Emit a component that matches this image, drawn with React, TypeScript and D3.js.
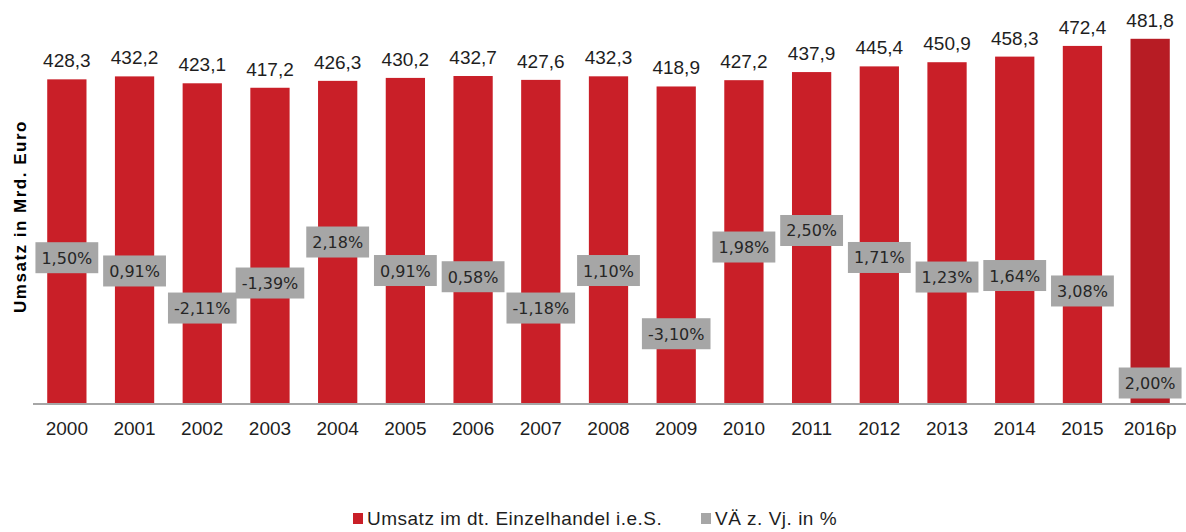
import React from "react";
import * as d3 from "d3";

const years = ["2000","2001","2002","2003","2004","2005","2006","2007","2008","2009","2010","2011","2012","2013","2014","2015","2016p"];
const revenue = [428.3,432.2,423.1,417.2,426.3,430.2,432.7,427.6,432.3,418.9,427.2,437.9,445.4,450.9,458.3,472.4,481.8];
const changePct = [1.50,0.91,-2.11,-1.39,2.18,0.91,0.58,-1.18,1.10,-3.10,1.98,2.50,1.71,1.23,1.64,3.08,2.00];
// vertical anchor of each change label, expressed in the primary axis units (Mrd. Euro)
const changeLabelAnchor = [193,175.5,126.6,159.6,213.7,176.1,167.9,126.6,176.1,92.7,207.1,228.9,193.3,167.5,169.5,149.1,27.7];
const yDomain = [0, 500];
const legendItems = ["Umsatz im dt. Einzelhandel i.e.S.", "VÄ z. Vj. in %"];

const W = 1186, H = 532;
const BAR = "#C91F28";
const BAR_PROJ = "#B71C24";
const GREY = "#A6A6A6";
const TEXT = "#1E1E1E";

const fmt = (v: number, d: number) => v.toFixed(d).replace(".", ",");

let ctx: CanvasRenderingContext2D | null = null;
function measure(text: string, font: string) {
  if (!ctx) ctx = document.createElement("canvas").getContext("2d");
  if (!ctx) return text.length * 9;
  ctx.font = font;
  return ctx.measureText(text).width;
}

export default function App() {
  const x = d3.scaleBand<string>().domain(years).range([33, 1184]).paddingInner(0.42).paddingOuter(0.21);
  const y = d3.scaleLinear().domain(yDomain).range([404, 25]);
  const pctFont = "16px 'DejaVu Sans'";
  return (
    <svg width={W} height={H} style={{ position: "absolute", left: 0, top: 0, background: "#fff" }}
      fontFamily="'Liberation Sans', Arial, sans-serif">
      {years.map((yr, i) => (
        <rect key={"b" + yr} x={x(yr)} y={y(revenue[i])} width={x.bandwidth()} height={y(0) - y(revenue[i]) - 1}
          fill={yr.endsWith("p") ? BAR_PROJ : BAR} />
      ))}
      <line x1={33} x2={W} y1={404} y2={404} stroke={GREY} strokeWidth={2} />
      {years.map((yr, i) => (
        <text key={"v" + yr} x={x(yr)! + x.bandwidth() / 2} y={y(revenue[i]) - 12} textAnchor="middle"
          fontSize={19} fill={TEXT}>{fmt(revenue[i], 1)}</text>
      ))}
      {years.map((yr) => (
        <text key={"x" + yr} x={x(yr)! + x.bandwidth() / 2} y={435} textAnchor="middle" fontSize={19} fill={TEXT}>{yr}</text>
      ))}
      {years.map((yr, i) => {
        const label = fmt(changePct[i], 2) + "%";
        const w = measure(label, pctFont) + 12;
        const cx = x(yr)! + x.bandwidth() / 2;
        const cy = y(changeLabelAnchor[i]);
        return (
          <g key={"p" + yr}>
            <rect x={cx - w / 2} y={cy - 15.5} width={w} height={31} fill={GREY} />
            <text x={cx} y={cy + 6} textAnchor="middle" fontFamily="'DejaVu Sans', sans-serif" fontSize={16} fill="#262626">{label}</text>
          </g>
        );
      })}
      <text transform="translate(26,216.5) rotate(-90)" textAnchor="middle" fontSize={17} fontWeight="bold"
        letterSpacing={1.5} fill="#000">Umsatz in Mrd. Euro</text>
      <g>
        <rect x={353} y={513} width={10} height={11} fill={BAR} />
        <text x={367} y={525} fontSize={19} fill={TEXT} letterSpacing={0.5}>{legendItems[0]}</text>
        <rect x={701} y={513} width={10} height={11} fill={GREY} />
        <text x={715} y={525} fontSize={19} fill={TEXT} letterSpacing={0.5}>{legendItems[1]}</text>
      </g>
    </svg>
  );
}
